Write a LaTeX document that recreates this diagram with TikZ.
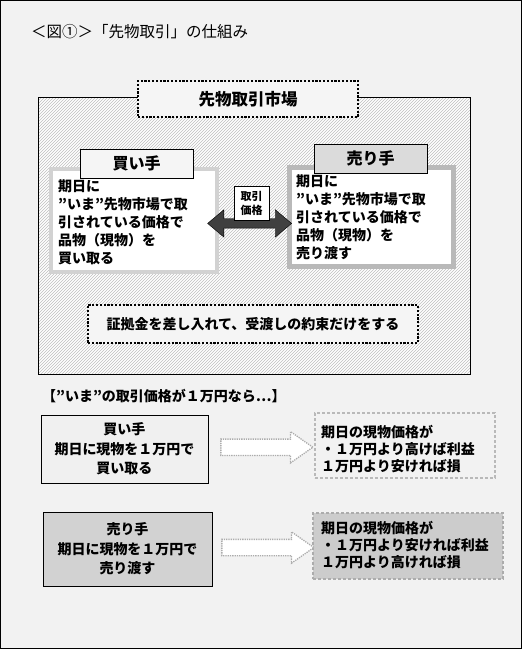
\documentclass[tikz,border=0pt]{standalone}
\usepackage{fontspec}
\setmainfont{Noto Sans CJK JP}
\usetikzlibrary{shapes.arrows, patterns, positioning}

\begin{document}
\begin{tikzpicture}[x=1pt,y=-1pt,
  dotbox/.style={draw, line width=2.2pt, dash pattern=on 2.2pt off 1.6pt, fill=gray!8, inner sep=0pt},
  tag/.style={draw, thick, inner sep=0pt, minimum width=113pt, minimum height=29pt, font=\fontsize{16}{18}\selectfont\bfseries},
  body/.style={inner sep=0pt, align=left, font=\fontsize{14}{18}\selectfont\bfseries},
  casebox/.style={draw, thick, inner sep=0pt, align=center, font=\fontsize{14}{19.5}\selectfont\bfseries},
  resbox/.style={line width=2.6pt, dash pattern=on 3pt off 2pt, inner sep=0pt},
  restext/.style={inner sep=0pt, align=left, font=\fontsize{14}{17}\selectfont\bfseries},
  hollow/.style={single arrow, draw=gray!65, line width=1.3pt, dash pattern=on 1.3pt off 1pt, fill=white,
    inner sep=7.5pt, single arrow head extend=7.5pt, single arrow tip angle=70, minimum height=92pt}
]
  \useasboundingbox (0,0) rectangle (522,649);
  % frame
  \draw[fill=gray!10] (0.5,0.5) rectangle (521.5,648.5);
  \node[anchor=west, inner sep=0pt, font=\fontsize{15.5}{15}\selectfont] (title) at (31,32) {＜図①＞「先物取引」の仕組み};
  % market
  \draw[thick, fill=white] (38,97) rectangle (470,374);
  \fill[pattern=north east lines, pattern color=gray!50] (38,97) rectangle (470,374);
  \draw[thick] (38,97) rectangle (470,374);
  \node[dotbox, minimum width=220pt, minimum height=36pt, font=\fontsize{16.5}{18}\selectfont\bfseries] (market) at (248,99) {先物取引市場};
  % buyer
  \node[draw=gray!35, line width=4pt, fill=white, minimum width=166pt, minimum height=103pt] (buy) at (134,220.5) {};
  \node[tag, fill=gray!8] (buytag) at (136.5,163.5) {買い手};
  \node[body, anchor=west] (buytext) at (58,222) {期日に\\”いま”先物市場で取\\引されている価格で\\品物（現物）を\\買い取る};
  % seller
  \node[draw=gray!55, line width=5pt, fill=white, minimum width=164pt, minimum height=99pt] (sell) at (371.5,217) {};
  \node[tag, fill=gray!28] (selltag) at (370.5,158.5) {売り手};
  \node[body, anchor=west] (selltext) at (296,217) {期日に\\”いま”先物市場で取\\引されている価格で\\品物（現物）を\\売り渡す};
  % price arrow
  \path (buy.east) -- (sell.west) node[pos=0.45, yshift=-4.5pt, double arrow, draw, fill=black!75, inner sep=4.5pt,
    double arrow head extend=9pt, double arrow tip angle=80, minimum height=84pt] (price) {};
  \node[draw, thick, fill=white, inner sep=0pt, minimum width=35pt, minimum height=34pt, align=center,
    font=\fontsize{11}{14}\selectfont\bfseries] (pricetag) at (251.5,203) {取引\\価格};
  \node[dotbox, minimum width=330pt, minimum height=38pt, font=\fontsize{14}{16}\selectfont\bfseries] (deposit) at (253,324) {証拠金を差し入れて、受渡しの約束だけをする};
  % example: 1 man-yen
  \node[anchor=west, inner sep=0pt, font=\fontsize{14}{15}\selectfont\bfseries] (case) at (42,396) {【”いま”の取引価格が１万円なら…】};
  \node[casebox, fill=gray!12, minimum width=167pt, minimum height=68pt] (buy2) at (124.5,449) {買い手\\期日に現物を１万円で\\買い取る};
  \node[resbox, draw=gray!55, fill=gray!10, minimum width=180pt, minimum height=65pt] (res1) at (405,445.5) {};
  \node[restext, anchor=west] (res1text) at (321,449) {期日の現物価格が\\・１万円より高けば利益\\１万円より安ければ損};
  \path (buy2.east) -- (res1.west) node[midway, hollow] (arr1) {};
  \node[casebox, fill=gray!35, minimum width=169pt, minimum height=74pt] (sell2) at (127.5,549) {売り手\\期日に現物を１万円で\\売り渡す};
  \node[resbox, draw=gray!65, fill=gray!40, minimum width=190pt, minimum height=66pt] (res2) at (408,546) {};
  \node[restext, anchor=west] (res2text) at (321,545) {期日の現物価格が\\・１万円より安ければ利益\\１万円より高ければ損};
  \path (sell2.east) -- (res2.west) node[midway, hollow] (arr2) {};
\end{tikzpicture}
\end{document}
